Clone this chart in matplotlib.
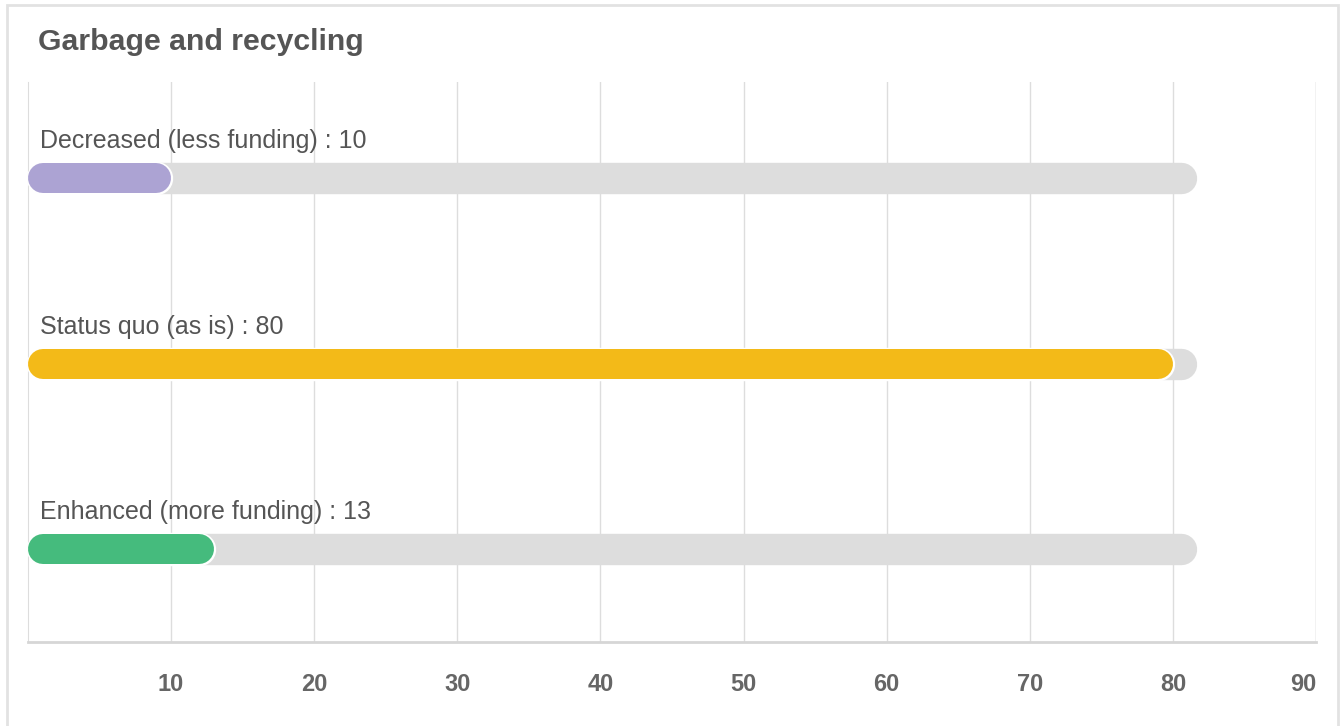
import matplotlib
matplotlib.use("Agg")
import matplotlib.pyplot as plt
import matplotlib.patheffects as pe
from matplotlib.patches import Rectangle

plt.rcParams['font.family'] = ['Liberation Sans', 'DejaVu Sans']

title = "Garbage and recycling"
categories = ["Decreased (less funding)", "Status quo (as is)", "Enhanced (more funding)"]
values = [10, 80, 13]
colors = ["#aca3d3", "#f3ba18", "#45bb7d"]
track_max = 81.6
ticks = [10, 20, 30, 40, 50, 60, 70, 80, 90]

W, H = 1342, 726
fig = plt.figure(figsize=(W / 100, H / 100), dpi=100)
# card border
fig.patches.append(Rectangle((7 / W, -0.05), (1338 - 7) / W, 1.05 - 5 / H,
                             transform=fig.transFigure, fill=False,
                             edgecolor="#e2e2e2", lw=2))
fig.text(38 / W, 1 - 42 / H, title, fontsize=21.8, fontweight="bold",
         color="#555555", va="center", ha="left")

x0, x1, y0, y1 = 28, 1316, 82, 642
ax = fig.add_axes([x0 / W, 1 - y1 / H, (x1 - x0) / W, (y1 - y0) / H])
ax.set_xlim(0, 90)
ax.set_ylim(2.5, -0.52)

px_per_unit = (x1 - x0) / 90.0
bar_px = 30
r = (bar_px / 2) / px_per_unit
lw = bar_px * 72 / 100.0

for i, (cat, v, c) in enumerate(zip(categories, values, colors)):
    ax.plot([r, track_max - r], [i, i], color="#dddddd", lw=lw + 1,
            solid_capstyle="round", zorder=2)
    ax.plot([r, v - r], [i, i], color=c, lw=lw, solid_capstyle="round", zorder=3,
            path_effects=[pe.Stroke(linewidth=lw + 2.5, foreground="white"), pe.Normal()])
    ax.annotate(f"{cat} : {v}", xy=(0, i), xytext=(12, 37), textcoords="offset pixels",
                fontsize=18, color="#555555", va="center", ha="left")

ax.set_xticks(ticks)
ax.set_xticklabels([str(t) for t in ticks], fontsize=17, fontweight="bold", color="#666666")
labels = ax.get_xticklabels()
labels[-1].set_horizontalalignment("right")
ax.tick_params(axis="x", length=0, pad=22)
ax.set_yticks([])
ax.grid(axis="x", color="#dddddd", lw=1, zorder=0)
ax.set_axisbelow(True)
for s in ["top", "right"]:
    ax.spines[s].set_visible(False)
ax.spines["left"].set_color("#dddddd")
ax.spines["bottom"].set_color("#d6d6d6")
ax.spines["bottom"].set_linewidth(2)
ax.axvline(90, color="#dddddd", lw=1, zorder=0)

fig.savefig("out.png", dpi=100)
